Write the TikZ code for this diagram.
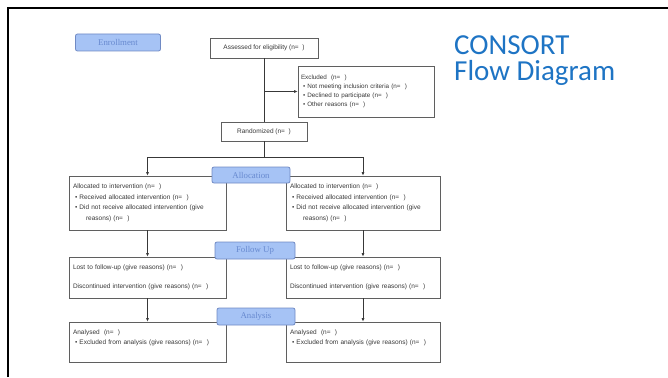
\documentclass[tikz,border=0pt]{standalone}
\usepackage{fontspec}
\setmainfont{Liberation Sans}
\newfontfamily\titlefont{Carlito}
\newfontfamily\stagefont{Liberation Serif}
\usetikzlibrary{arrows.meta,positioning,calc}
\definecolor{titleblue}{RGB}{30,116,196}
\definecolor{stagefill}{RGB}{166,195,245}
\definecolor{stageline}{RGB}{112,138,196}
\definecolor{stagetext}{RGB}{104,138,208}
\definecolor{boxline}{RGB}{95,95,95}
\definecolor{boxtext}{RGB}{55,55,55}

\begin{document}
\begin{tikzpicture}[
  x=1pt, y=-1pt,
  font=\fontsize{6.5}{10.5}\selectfont,
  box/.style={draw=boxline, line width=0.65pt, align=left, text=boxtext, inner xsep=4pt, inner ysep=2pt},
  single/.style={box, align=center, minimum height=#1},
  stage/.style={draw=stageline, fill=stagefill, rounded corners=2pt, line width=0.8pt, text=stagetext,
    font=\stagefont\fontsize{8.8}{9}\selectfont, minimum width=78pt, minimum height=16pt, inner sep=1pt},
  line/.style={draw=black!78, line width=0.85pt},
  arrow/.style={line, -{Latex[length=3.5pt,width=3pt]}}
]

\useasboundingbox (0,0) rectangle (668,377);
\draw[line width=2.5pt] (8,377) -- (8,8) -- (668,8);

% title
\node[anchor=north west, inner sep=0pt, align=left, text=titleblue,
  font=\titlefont\fontsize{29}{26.5}\selectfont] (title) at (454,35) {CONSORT\\Flow Diagram};

% enrollment
\node[stage, minimum width=85pt, minimum height=17pt] (enrol) at (118,42.5) {Enrollment};
\node[single=20pt, minimum width=108pt] (assess) at (264,48) {Assessed for eligibility (n=\ \ )};
\node[box, text width=130pt, minimum height=51pt, inner xsep=3pt, font=\fontsize{6.3}{9.2}\selectfont] (excl) at (366,91.5)
  {Excluded\ \ (n=\ \ )\\
   \hspace*{2pt}\textbullet\ Not meeting inclusion criteria (n=\ \ )\\
   \hspace*{2pt}\textbullet\ Declined to participate (n=\ \ )\\
   \hspace*{2pt}\textbullet\ Other reasons (n=\ \ )};
\node[single=19pt, minimum width=86pt] (rand) at (264,131.5) {Randomized (n=\ \ )};

% allocation
\node[box, text width=149pt, minimum height=54pt] (allocL) at (147.5,203)
  {Allocated to intervention (n=\ \ )\\
   \hspace*{2pt}\textbullet\ Received allocated intervention (n=\ \ )\\
   \hspace*{2pt}\textbullet\ Did not receive allocated intervention (give\\
   \hspace*{13pt}reasons) (n=\ \ )};
\node[box, text width=146pt, minimum height=54pt] (allocR) at (363,203)
  {Allocated to intervention (n=\ \ )\\
   \hspace*{2pt}\textbullet\ Received allocated intervention (n=\ \ )\\
   \hspace*{2pt}\textbullet\ Did not receive allocated intervention (give\\
   \hspace*{13pt}reasons) (n=\ \ )};

% follow up
\node[box, text width=149pt, minimum height=41pt] (followL) at (147.5,277.5)
  {Lost to follow-up (give reasons) (n=\ \ )\\[9pt]
   Discontinued intervention (give reasons) (n=\ \ )};
\node[box, text width=146pt, minimum height=41pt] (followR) at (363,277.5)
  {Lost to follow-up (give reasons) (n=\ \ )\\[9pt]
   Discontinued intervention (give reasons) (n=\ \ )};

% analysis
\node[box, text width=149pt, minimum height=40pt, text depth=20pt] (analysL) at (147.5,342)
  {Analysed\ \ (n=\ \ )\\
   \hspace*{2pt}\textbullet\ Excluded from analysis (give reasons) (n=\ \ )};
\node[box, text width=146pt, minimum height=40pt, text depth=20pt] (analysR) at (363,342)
  {Analysed\ \ (n=\ \ )\\
   \hspace*{2pt}\textbullet\ Excluded from analysis (give reasons) (n=\ \ )};

% connectors
\coordinate (exclsplit) at (assess.south |- excl.west);
\coordinate (split) at (264,157);
\draw[line] (assess) -- (rand);
\draw[arrow] (exclsplit) -- (excl.west);
\draw[line] (rand) -- (split);
\draw[arrow] (split) -| (allocL.north);
\draw[arrow] (split) -| (allocR.north);
\draw[arrow] (allocL) -- (followL);
\draw[arrow] (allocR) -- (followR);
\draw[arrow] (followL) -- (analysL);
\draw[arrow] (followR) -- (analysR);

% stage labels on top
\node[stage] (allocation) at (251,175) {Allocation};
\node[stage, minimum width=80pt, minimum height=17pt] (followup) at (255,250.5) {Follow Up};
\node[stage, minimum height=17pt] (analysis) at (256,316.5) {Analysis};

\end{tikzpicture}
\end{document}
